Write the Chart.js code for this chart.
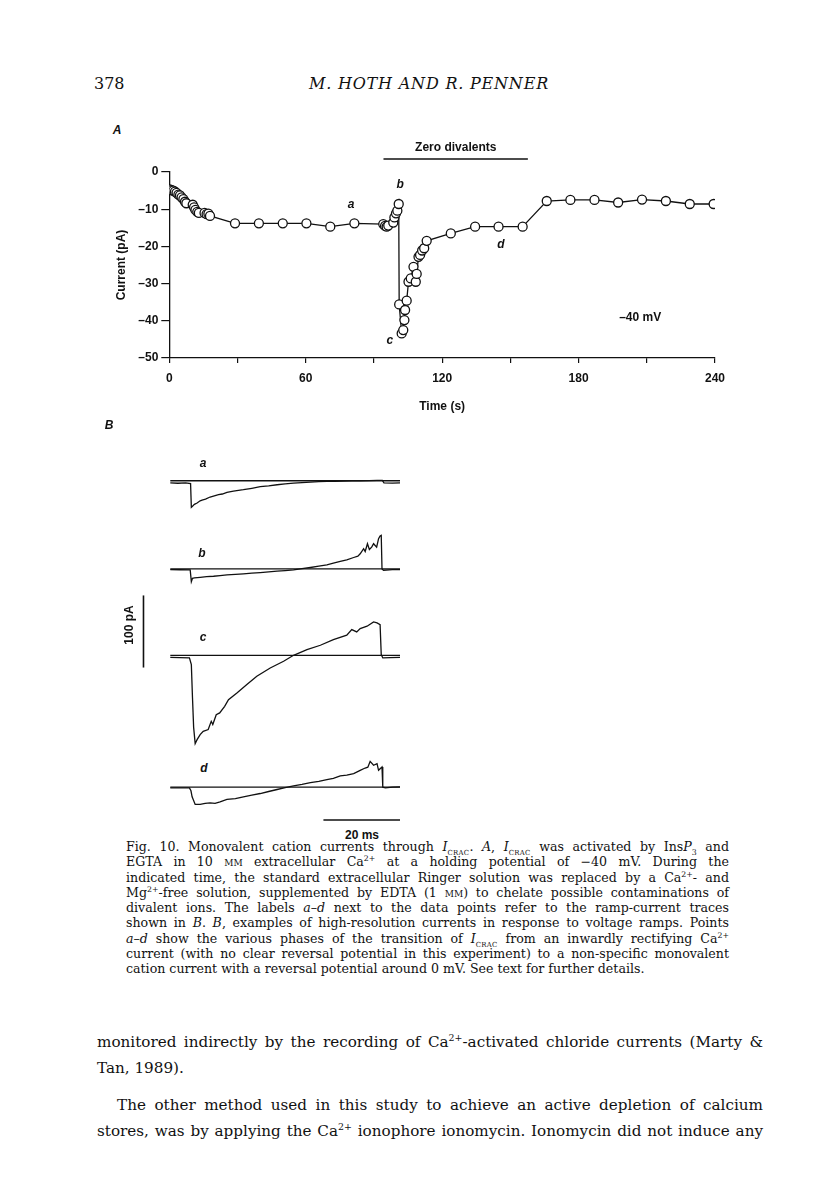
<!DOCTYPE html>
<html>
<head>
<meta charset="utf-8">
<script src="https://cdn.jsdelivr.net/npm/chart.js@4.4.0/dist/chart.umd.min.js"></script>
<style>
body { margin: 0; background: #fff; }
#page { position: relative; width: 816px; height: 1204px; background: #fff; color: #111; overflow: hidden; }
.abs { position: absolute; white-space: nowrap; }
.serif { font-family: "DejaVu Serif", "Liberation Serif", serif; }
.sans { font-family: "Liberation Sans", Arial, sans-serif; font-weight: bold; }
.mid { transform: translate(-50%, -50%); }
.just { white-space: normal; text-align: justify; text-align-last: justify; }
canvas { position: absolute; }
sub, sup { line-height: 0; font-size: 0.62em; }
sub.cr { font-size: 0.55em; letter-spacing: 0.3px; }
.sc { font-variant: small-caps; }
.body { font-size: 15.2px; line-height: 26px; }
</style>
</head>
<body>
<div id="page">
  <!-- header -->
  <div class="abs serif" style="left:94px;top:74px;font-size:16px;line-height:20px;">378</div>
  <div class="abs serif" style="left:229px;top:74px;width:400px;text-align:center;font-size:16px;line-height:20px;font-style:italic;letter-spacing:0.8px;">M. HOTH AND R. PENNER</div>

  <!-- panel A -->
  <div class="abs sans mid" style="left:117px;top:130px;font-size:12px;font-style:italic;">A</div>
  <canvas id="chartA" width="660" height="300" style="left:100px;top:120px;"></canvas>

  <!-- panel B -->
  <div class="abs sans mid" style="left:109px;top:425px;font-size:12px;font-style:italic;">B</div>
  <div class="abs sans mid" style="left:203px;top:463px;font-size:12px;font-style:italic;">a</div>
  <div class="abs sans mid" style="left:202px;top:553px;font-size:12px;font-style:italic;">b</div>
  <div class="abs sans mid" style="left:203px;top:637px;font-size:12px;font-style:italic;">c</div>
  <div class="abs sans mid" style="left:204px;top:768px;font-size:12px;font-style:italic;">d</div>
  <div class="abs sans" style="left:129px;top:625px;font-size:12px;transform:translate(-50%,-50%) rotate(-90deg);">100 pA</div>
  <div class="abs sans mid" style="left:362px;top:835px;font-size:12px;">20 ms</div>
  <canvas id="traceA" width="268" height="43" style="left:132px;top:470px;"></canvas>
  <canvas id="traceB" width="268" height="58" style="left:132px;top:529px;"></canvas>
  <canvas id="traceC" width="268" height="155" style="left:132px;top:594px;"></canvas>
  <canvas id="traceD" width="268" height="68" style="left:132px;top:755px;"></canvas>

  <!-- caption -->
  <div class="abs serif" style="left:126px;top:839px;width:603px;font-size:12.6px;line-height:15.3px;">
    <div class="just">Fig. 10. Monovalent cation currents through <i>I</i><sub class="cr">CRAC</sub>. <i>A</i>, <i>I</i><sub class="cr">CRAC</sub> was activated by Ins<i>P</i><sub>3</sub> and</div>
    <div class="just">EGTA in 10 <span class="sc">mm</span> extracellular Ca<sup>2+</sup> at a holding potential of &minus;40 mV. During the</div>
    <div class="just">indicated time, the standard extracellular Ringer solution was replaced by a Ca<sup>2+</sup>- and</div>
    <div class="just">Mg<sup>2+</sup>-free solution, supplemented by EDTA (1 <span class="sc">mm</span>) to chelate possible contaminations of</div>
    <div class="just">divalent ions. The labels <i>a</i>&ndash;<i>d</i> next to the data points refer to the ramp-current traces</div>
    <div class="just">shown in <i>B</i>. <i>B</i>, examples of high-resolution currents in response to voltage ramps. Points</div>
    <div class="just"><i>a</i>&ndash;<i>d</i> show the various phases of the transition of <i>I</i><sub class="cr">CRAC</sub> from an inwardly rectifying Ca<sup>2+</sup></div>
    <div class="just">current (with no clear reversal potential in this experiment) to a non-specific monovalent</div>
    <div>cation current with a reversal potential around 0 mV. See text for further details.</div>
  </div>

  <!-- body text -->
  <div class="abs serif just body" style="left:97px;top:1029px;width:666px;">monitored indirectly by the recording of Ca<sup>2+</sup>-activated chloride currents (Marty &amp;</div>
  <div class="abs serif body" style="left:97px;top:1055px;">Tan, 1989).</div>
  <div class="abs serif just body" style="left:117px;top:1092px;width:646px;">The other method used in this study to achieve an active depletion of calcium</div>
  <div class="abs serif just body" style="left:97px;top:1118px;width:666px;">stores, was by applying the Ca<sup>2+</sup> ionophore ionomycin. Ionomycin did not induce any</div>
</div>

<script>
// Panel A: holding current at -40 mV
const timeA = [0.3, 1.0, 1.8, 2.5, 3.2, 4.0, 4.7, 5.4, 6.2, 6.9, 7.5, 10.3, 10.9, 11.5, 12.3, 13.0, 15.5, 16.4, 17.2, 17.9,
               28.9, 39.4, 49.9, 60.3, 70.8, 81.4,
               94.1, 94.9, 95.6, 96.3, 98.5, 99.0, 99.7, 100.3, 100.9,
               101.1, 102.2, 102.9, 103.4, 103.7, 104.4, 105.2, 106.2, 107.4, 108.4, 108.8, 109.6, 110.3, 111.2, 112.1, 113.2,
               123.8, 134.5, 144.8, 155.4, 166.0, 176.4, 187.0, 197.4, 207.9, 218.4, 228.9, 239.4];
const currentA = [-4.7, -4.9, -5.0, -5.3, -5.6, -6.1, -6.3, -6.8, -7.3, -8.0, -8.4, -8.8, -9.5, -10.2, -10.7, -11.0, -11.0, -11.3, -11.2, -11.8,
                  -13.8, -13.8, -13.8, -13.8, -14.7, -13.8,
                  -14.0, -14.5, -14.7, -14.4, -13.6, -12.2, -11.1, -10.4, -8.6,
                  -35.6, -43.4, -42.5, -39.8, -37.1, -34.6, -29.5, -28.6, -25.5, -29.5, -27.4, -22.8, -22.3, -21.1, -20.5, -18.5,
                  -16.5, -14.7, -14.7, -14.7, -7.8, -7.5, -7.5, -8.2, -7.4, -7.8, -8.6, -8.6];
const zeroDivalents = [94.2, 157.7];   // s, solution exchange period
const xTickStep = 30;
const xLabelStep = 60;
const yTickStep = 10;

const labelsA = [
  { text: 'Zero divalents', t: 126.0, v: 6.5, style: 'bold' },
  { text: 'a', t: 80.0, v: -8.9, style: 'italic bold' },
  { text: 'b', t: 101.5, v: -3.5, style: 'italic bold' },
  { text: 'c', t: 97.0, v: -45.4, style: 'italic bold' },
  { text: 'd', t: 145.8, v: -19.6, style: 'italic bold' },
  { text: '\u201340 mV', t: 207.1, v: -39.1, style: 'bold' }
];

// Panel B: ramp currents (ms, pA)
const rampTimeA = [0, 2, 4, 5.3, 5.5, 5.8, 6.3, 7.0, 7.8, 8.3, 9.2, 10.4, 11.5, 12.6, 13.6, 14.8, 16.5, 19.1, 21.3, 23.5, 25.7, 27.9, 30, 32.2, 34.4, 36.6, 38.8, 40.9, 43, 45.3, 47.5, 49.6, 52, 54, 55.4, 55.8, 58, 60];
const rampCurrentA = [-3, -3.5, -3, -4, -37, -35.6, -33, -31, -28, -27, -25.5, -22.7, -21, -19.4, -18.5, -16.2, -14.5, -12.5, -10.5, -8.3, -7.2, -5.6, -4.5, -3.2, -2.6, -1.9, -1.2, -0.9, -0.7, -0.5, -0.2, 0, 0.3, 0.5, 0.5, -3, -3.2, -3];

const rampTimeB = [0, 2.5, 5.2, 5.5, 5.8, 6.3, 7.8, 9.5, 11.3, 13, 14.8, 17, 19.1, 21.3, 23.5, 25.7, 27.9, 30, 32.2, 34.4, 36.6, 38.8, 40.9, 42.6, 44.4, 46.1, 47.9, 49, 49.6, 50.5, 50.9, 51.5, 52, 52.6, 53.1, 53.9, 54.4, 54.8, 55.1, 55.3, 55.7, 58, 60];
const rampCurrentB = [-0.9, -1.2, -1.4, -17.6, -13, -12.5, -11.6, -10.8, -10.2, -9.3, -8.3, -7.6, -6.9, -6, -5.1, -4.2, -3.2, -2.3, -1.4, 0.2, 1.9, 3.7, 5.6, 7.8, 10.2, 12.5, 15.7, 17.6, 20.8, 27.8, 24, 34.7, 26.8, 30, 34.7, 30, 41.7, 45.4, 46.3, 0, -1.9, -1, -0.9];

const rampTimeC = [0, 2.5, 5.0, 5.5, 5.8, 6.1, 6.5, 7.0, 7.8, 8.6, 9.9, 10.7, 11.1, 12.0, 12.9, 14.2, 15.2, 17.4, 20.0, 22.6, 26.1, 29.6, 32.2, 35.7, 39.2, 42.6, 46.1, 47.4, 48.7, 49.6, 51.4, 53.1, 54.0, 54.8, 55.1, 55.5, 57.5, 60];
const rampCurrentC = [-2.8, -3.2, -3.7, -13, -59, -100, -122.6, -117, -110, -105.5, -103, -91.6, -96, -82.4, -80, -70.8, -61.5, -52.3, -40.7, -29.1, -17.6, -8.3, 0, 7.9, 13.9, 21.8, 27.8, 35.7, 32.4, 37, 40.3, 46.3, 45, 42.6, 1, -3.7, -3.2, -3];

const rampTimeD = [0, 2.5, 5.0, 5.4, 5.7, 6.5, 7.8, 9.1, 10.4, 11.7, 13, 14.8, 17, 19.1, 21.3, 23.5, 25.7, 27.9, 30, 32.2, 34.4, 36.6, 38.8, 40.9, 42.6, 44.4, 46.1, 47.9, 49.6, 50.9, 51.6, 52.2, 53.1, 54, 54.4, 55.3, 55.5, 56.2, 58, 60];
const rampCurrentD = [-0.9, -1, -0.9, -5, -13.4, -24, -24, -22.5, -21.8, -22.5, -20.4, -17.1, -16, -13.4, -11, -8.8, -6, -3.2, -0.5, 1.9, 4, 6.5, 8.3, 10.6, 12.5, 15.7, 17, 19, 23.6, 26.8, 28, 36, 30.6, 32.9, 23.6, 28.2, 0, -0.9, 0, 0.5];

const baselineSpan = [0, 60];          // ms, zero-current reference line
const scaleBarTime = [40, 60];         // 20 ms
const scaleBarCurrent = [-17, 83];     // 100 pA

const ink = '#111';
const sansFont = 'Liberation Sans, Arial, sans-serif';

function pts(xs, ys) {
  return xs.map((x, i) => ({ x: x, y: ys[i] }));
}

const labelPlugin = {
  id: 'labelPlugin',
  afterDraw(chart) {
    const ctx = chart.ctx;
    const x = chart.scales.x;
    const y = chart.scales.y;
    ctx.save();
    // bar for the zero-divalent period
    ctx.strokeStyle = ink;
    ctx.lineWidth = 1.6;
    ctx.beginPath();
    ctx.moveTo(x.getPixelForValue(zeroDivalents[0]), y.getPixelForValue(3.5));
    ctx.lineTo(x.getPixelForValue(zeroDivalents[1]), y.getPixelForValue(3.5));
    ctx.stroke();
    ctx.fillStyle = ink;
    ctx.textAlign = 'center';
    ctx.textBaseline = 'middle';
    labelsA.forEach(l => {
      ctx.font = l.style + ' 12px ' + sansFont;
      ctx.fillText(l.text, x.getPixelForValue(l.t), y.getPixelForValue(l.v));
    });
    ctx.restore();
  }
};

const axisFont = { family: sansFont, size: 12, weight: 'bold' };

new Chart(document.getElementById('chartA'), {
  type: 'line',
  data: {
    datasets: [{
      data: pts(timeA, currentA),
      borderColor: ink,
      borderWidth: 1.3,
      pointRadius: 4.5,
      pointBorderWidth: 1.3,
      pointBackgroundColor: '#fff',
      pointBorderColor: ink,
      tension: 0
    }]
  },
  options: {
    responsive: false,
    animation: false,
    layout: { padding: { left: 10, top: 52, right: 45, bottom: 5 } },
    plugins: { legend: { display: false }, tooltip: { enabled: false } },
    scales: {
      x: {
        type: 'linear',
        min: 0,
        max: 240,
        afterFit: s => { s.height = 57; },
        ticks: {
          stepSize: xTickStep,
          autoSkip: false,
          maxRotation: 0,
          padding: 8,
          color: ink,
          font: axisFont,
          callback: v => (v % xLabelStep === 0 ? String(v) : '')
        },
        grid: { drawOnChartArea: false, tickLength: 5, color: ink, lineWidth: 1.2 },
        border: { color: ink, width: 1.3 },
        title: { display: true, text: 'Time (s)', color: ink, font: axisFont, padding: { top: 0, bottom: 1 } }
      },
      y: {
        min: -50,
        max: 0,
        afterFit: s => { s.width = 59.3; },
        ticks: {
          stepSize: yTickStep,
          padding: 3,
          color: ink,
          font: axisFont,
          callback: v => (v === 0 ? '0' : '\u2013' + Math.abs(v))
        },
        grid: { drawOnChartArea: false, tickLength: 8, color: ink, lineWidth: 1.2 },
        border: { color: ink, width: 1.3 },
        title: { display: true, text: 'Current (pA)', color: ink, font: axisFont, padding: { top: 4, bottom: 4 } }
      }
    }
  },
  plugins: [labelPlugin]
});

function lineSet(data) {
  return { data: data, borderColor: ink, borderWidth: 1.3, pointRadius: 0, tension: 0, clip: false };
}

function makeTrace(id, times, currents, yMin, yMax, extra) {
  const datasets = [
    lineSet(pts(baselineSpan, [0, 0])),
    lineSet(pts(times, currents))
  ].concat(extra || []);
  new Chart(document.getElementById(id), {
    type: 'line',
    data: { datasets: datasets },
    options: {
      responsive: false,
      animation: false,
      layout: { padding: 0 },
      plugins: { legend: { display: false }, tooltip: { enabled: false } },
      scales: {
        x: { type: 'linear', min: -10, max: 60, display: false },
        y: { min: yMin, max: yMax, display: false }
      }
    }
  });
}

makeTrace('traceA', rampTimeA, rampCurrentA, -45, 15);
makeTrace('traceB', rampTimeB, rampCurrentB, -25, 55);
makeTrace('traceC', rampTimeC, rampCurrentC, -130, 85,
  [Object.assign(lineSet(pts([-7, -7], scaleBarCurrent)), { borderWidth: 1.6 })]);
makeTrace('traceD', rampTimeD, rampCurrentD, -50, 45,
  [Object.assign(lineSet(pts(scaleBarTime, [-45.8, -45.8])), { borderWidth: 1.6 })]);
</script>
</body>
</html>
